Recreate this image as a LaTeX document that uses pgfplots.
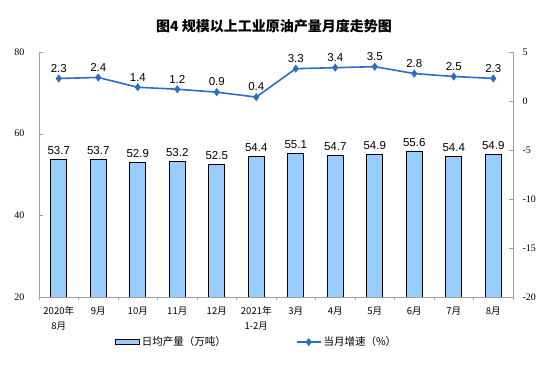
\documentclass[border=0pt]{standalone}
\usepackage{pgfplots}
\pgfplotsset{compat=1.18}
\usepackage{fontspec}
\setmainfont{Liberation Serif}
\newfontfamily\arial{Liberation Sans}
\newfontfamily\cjk{Noto Sans CJK SC}
\definecolor{barblue}{RGB}{153,204,255}
\definecolor{lineblue}{RGB}{40,110,195}
\definecolor{axgray}{RGB}{160,160,160}
\pgfplotsset{
  mylinelegend/.style={legend image code/.code={\draw[##1] (0pt,0pt) -- (24pt,0pt); \draw[##1, mark repeat=1] plot coordinates {(12pt,0pt)};}},
  mybarlegend/.style={legend image code/.code={\draw[fill=barblue, draw=black, line width=1pt] (0pt,-2.5pt) rectangle (24pt,2.5pt);}},
}
\begin{document}
\begin{tikzpicture}[x=1pt,y=1pt]
\useasboundingbox (0,0) rectangle (554,374);
\node[font=\cjk\bfseries\fontsize{14}{16}\selectfont] at (274,348) {图4\ 规模以上工业原油产量月度走势图};
\pgfplotsset{
  myaxis/.style={
    scale only axis, width=474pt, height=245pt,
    at={(39pt,77pt)}, anchor=south west,
    xmin=-0.5, xmax=11.5,
    /pgf/number format/assume math mode=true,
    tick label style={font=\fontsize{10}{12}\selectfont},
    axis line style={draw=axgray},
    tick style={draw=axgray},
    tick align=inside,
    major tick length=4pt,
  }
}
\begin{axis}[myaxis,
  ymin=20, ymax=80, ytick={20,40,60,80},
  axis y line*=left, axis x line*=bottom,
  xtick={0,...,11},
  xticklabels={{2020年\\8月},9月,10月,11月,12月,{2021年\\1-2月},3月,4月,5月,6月,7月,8月},
  x tick label style={font=\cjk\fontsize{9.5}{14.5}\selectfont, align=center, anchor=north, yshift=-2pt},
  xtick style={draw=none},
  minor xtick={-0.5,0.5,...,11.5},
  minor tick length=3pt,
  minor x tick style={draw=axgray},
  yticklabel style={xshift=-11pt},
  ybar, bar width=16pt,
  nodes near coords,
  every node near coord/.append style={font=\arial\fontsize{11.5}{13}\selectfont, text=black, yshift=1pt},
  nodes near coords style={/pgf/number format/.cd, fixed, fixed zerofill, precision=1},
]
\addplot[fill=barblue, draw=black, line width=0.8pt] coordinates {
(0,53.7) (1,53.7) (2,52.9) (3,53.2) (4,52.5) (5,54.4) (6,55.1) (7,54.7) (8,54.9) (9,55.6) (10,54.4) (11,54.9)};
\end{axis}
\begin{axis}[myaxis,
  ymin=-20, ymax=5, ytick={-20,-15,-10,-5,0,5},
  yticklabels={-20,-15,-10,-5,0,5},
  axis y line*=right, axis x line=none,
  yticklabel style={xshift=6pt},
  legend style={at={(0.459,-0.184)}, anchor=center, draw=none, fill=none,
    legend columns=2, font=\cjk\fontsize{10.5}{12}\selectfont,
    /tikz/every even column/.append style={column sep=68pt}},
  legend cell align=left,
]
\addlegendimage{mybarlegend}
\addlegendentry{日均产量（万吨）}
\addplot[color=lineblue, line width=1.6pt, mark=diamond*, mark size=2.8pt,
  nodes near coords,
  every node near coord/.append style={font=\arial\fontsize{11.5}{13}\selectfont, text=black, yshift=2pt},
  nodes near coords style={/pgf/number format/.cd, fixed, fixed zerofill, precision=1},
  mylinelegend
] coordinates {
(0,2.3) (1,2.4) (2,1.4) (3,1.2) (4,0.9) (5,0.4) (6,3.3) (7,3.4) (8,3.5) (9,2.8) (10,2.5) (11,2.3)};
\addlegendentry{当月增速（\%）}
\end{axis}
\end{tikzpicture}
\end{document}
